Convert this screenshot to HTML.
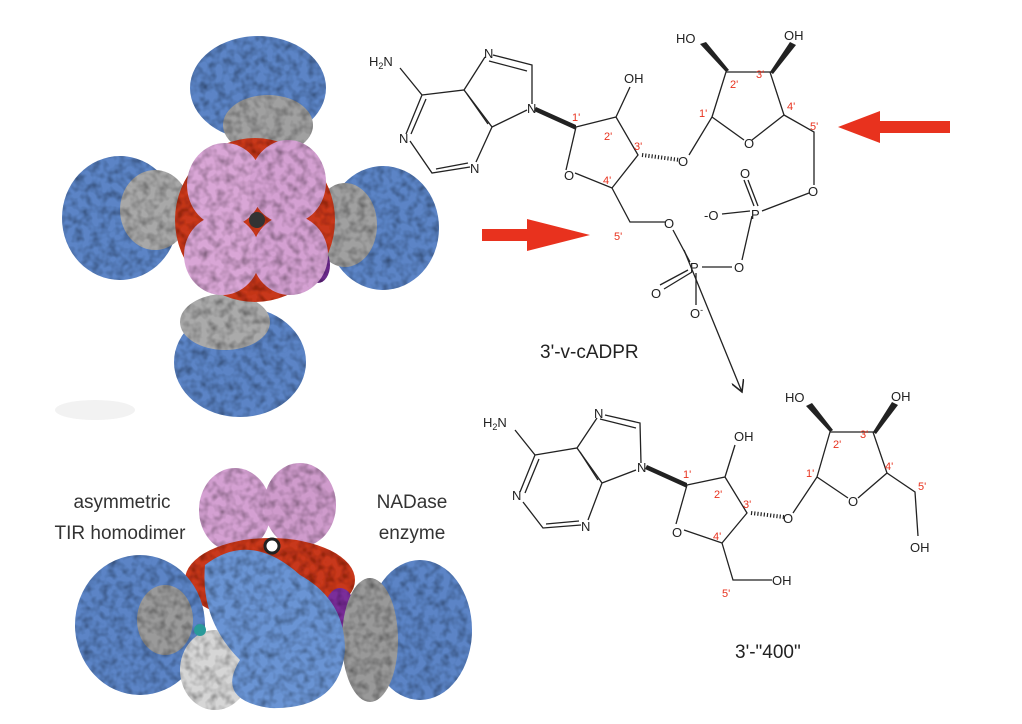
<!DOCTYPE html>
<html><head><style>
html,body{margin:0;padding:0;background:#fff;}
svg{display:block;}
text{font-family:"Liberation Sans",sans-serif;}
</style></head><body>
<svg width="1022" height="724" viewBox="0 0 1022 724" xmlns="http://www.w3.org/2000/svg">
<defs>
<filter id="tx" x="-10%" y="-10%" width="120%" height="120%">
<feTurbulence type="fractalNoise" baseFrequency="0.12" numOctaves="2" seed="3" result="n"/>
<feColorMatrix in="n" type="matrix" values="0 0 0 0 0  0 0 0 0 0  0 0 0 0 0  0 0 0 -1.2 0.75" result="m"/>
<feComposite in="m" in2="SourceGraphic" operator="in" result="d"/>
<feMerge><feMergeNode in="SourceGraphic"/><feMergeNode in="d"/></feMerge>
</filter>
<marker id="ah" markerWidth="10" markerHeight="10" refX="9" refY="5" orient="auto"><path d="M0,0 L9,5 L0,10" fill="none" stroke="#222" stroke-width="1.2"/></marker>
</defs>

<!-- top protein -->
<ellipse cx="95" cy="410" rx="40" ry="10" fill="#f2f2f2"/>
<g filter="url(#tx)">
<ellipse cx="258" cy="88" rx="68" ry="52" fill="#5b84c6"/>
<ellipse cx="120" cy="218" rx="58" ry="62" fill="#5b84c6"/>
<ellipse cx="383" cy="228" rx="56" ry="62" fill="#5b84c6"/>
<ellipse cx="240" cy="362" rx="66" ry="55" fill="#5b84c6"/>
<ellipse cx="268" cy="125" rx="45" ry="30" fill="#a0a0a0"/>
<ellipse cx="155" cy="210" rx="35" ry="40" fill="#a8a8a8"/>
<ellipse cx="345" cy="225" rx="32" ry="42" fill="#a0a0a0"/>
<ellipse cx="225" cy="322" rx="45" ry="28" fill="#aaa"/>
<ellipse cx="255" cy="220" rx="80" ry="82" fill="#c8391e"/>
<ellipse cx="200" cy="260" rx="14" ry="22" fill="#6a2a8a"/>
<ellipse cx="318" cy="265" rx="12" ry="18" fill="#6a2a8a"/>
<ellipse cx="225" cy="185" rx="38" ry="42" fill="#d9a6d6"/>
<ellipse cx="288" cy="182" rx="38" ry="42" fill="#d4a0d2"/>
<ellipse cx="222" cy="255" rx="38" ry="40" fill="#d9a6d6"/>
<ellipse cx="290" cy="255" rx="38" ry="40" fill="#d4a0d2"/>
</g>
<ellipse cx="257" cy="220" rx="8" ry="8" fill="#333"/>

<!-- bottom protein -->
<g filter="url(#tx)">
<ellipse cx="235" cy="510" rx="36" ry="42" fill="#d4a0d2"/>
<ellipse cx="300" cy="505" rx="36" ry="42" fill="#cf9bcc"/>
<ellipse cx="270" cy="580" rx="85" ry="42" fill="#c8391e"/>
<ellipse cx="340" cy="610" rx="15" ry="22" fill="#7a2d9a"/>
<ellipse cx="140" cy="625" rx="65" ry="70" fill="#5b84c6"/>
<ellipse cx="420" cy="630" rx="52" ry="70" fill="#5b84c6"/>
<ellipse cx="165" cy="620" rx="28" ry="35" fill="#9a9a9a"/>
<ellipse cx="215" cy="670" rx="35" ry="40" fill="#d6d6d6"/>
<ellipse cx="370" cy="640" rx="28" ry="62" fill="#999"/>
<path d="M205,565 Q250,530 300,575 Q345,600 345,650 Q340,710 270,708 Q215,700 240,660 Q200,620 205,565 Z" fill="#6a94d4"/>
</g>
<circle cx="272" cy="546" r="7" fill="#fff" stroke="#222" stroke-width="3"/>
<circle cx="200" cy="630" r="6" fill="#2a9a9a"/>
<text x="122" y="508" font-size="19" fill="#333" text-anchor="middle">asymmetric</text>
<text x="120" y="539" font-size="19" fill="#333" text-anchor="middle">TIR homodimer</text>
<text x="412" y="508" font-size="19" fill="#333" text-anchor="middle">NADase</text>
<text x="412" y="539" font-size="19" fill="#333" text-anchor="middle">enzyme</text>

<!-- red arrows -->
<polygon points="482,229 527,229 527,219 590,235 527,251 527,241 482,241" fill="#e8321e"/>
<polygon points="950,121 880,121 880,111 838,127 880,143 880,133 950,133" fill="#e8321e"/>

<!-- top molecule -->
<g stroke="#222" stroke-width="1.3" fill="none">
<path d="M400,68 L422,95 L406,134 M410,141 L432,173 L470,167 M476,162 L492,127 L464,90 L422,95 M464,90 L485,57 M493,55 L532,65 L532,104 M527,110 L492,127"/>
<path d="M426,99 L411,134 M436,169 L468,163 M467,94 L488,124 M489,61 L527,71"/>
<path d="M576,127 L616,117 L638,155 L612,188 L575,173 M566,170 L576,127 M616,117 L630,87"/>
<path d="M712,117 L726,72 L770,72 L784,115 L752,140 M744,140 L712,117 M712,117 L689,155"/>
<path d="M784,115 L814,132 L814,185 M809,193 L762,211 M758,206 L748,180 M752,216 L742,260 M750,211 L722,214 M732,267 L702,267 M692,272 L664,289 M696,273 L696,305 M690,262 L673,230 M666,222 L630,222 L612,188"/>
<path d="M754,206 L744,180"/>
<path d="M688,270 L660,285"/>
<path d="M684,250 L742,392" marker-end="url(#ah)"/>
</g>
<polygon points="536,107 576,125 576,130 534,111" fill="#222"/>
<path d="M642,155 L680,160" stroke="#222" stroke-width="4" stroke-dasharray="1.2,2" fill="none"/>
<polygon points="726,72 700,44 706,42 729,70" fill="#222"/>
<polygon points="770,72 790,42 796,45 773,74" fill="#222"/>
<g font-size="13" fill="#222">
<text x="369" y="66">H<tspan font-size="9" dy="3">2</tspan><tspan dy="-3">N</tspan></text>
<text x="399" y="143">N</text><text x="470" y="173">N</text><text x="484" y="58">N</text><text x="527" y="113">N</text>
<text x="624" y="83">OH</text><text x="564" y="180">O</text><text x="678" y="166">O</text><text x="744" y="148">O</text>
<text x="676" y="43">HO</text><text x="784" y="40">OH</text><text x="808" y="196">O</text>
<text x="751" y="219">P</text><text x="740" y="178">O</text><text x="704" y="220">-O</text><text x="734" y="272">O</text>
<text x="690" y="272">P</text><text x="651" y="298">O</text><text x="690" y="318">O<tspan font-size="9" dy="-5">-</tspan></text><text x="664" y="228">O</text>
</g>
<g font-size="11" fill="#e8321e">
<text x="572" y="121">1'</text><text x="604" y="140">2'</text><text x="634" y="150">3'</text><text x="603" y="184">4'</text><text x="614" y="240">5'</text>
<text x="699" y="117">1'</text><text x="730" y="88">2'</text><text x="756" y="78">3'</text><text x="787" y="110">4'</text><text x="810" y="130">5'</text>
</g>
<text x="540" y="358" font-size="19" fill="#222">3'-v-cADPR</text>

<!-- bottom molecule -->
<g stroke="#222" stroke-width="1.3" fill="none">
<path d="M515,430 L535,455 L520,492 M523,502 L543,528 L581,525 M588,520 L602,483 L577,448 L535,455 M577,448 L597,418 M605,415 L640,423 L641,463 M636,470 L602,483"/>
<path d="M539,459 L525,493 M546,524 L579,521 M580,452 L598,480 M600,419 L636,428"/>
<path d="M687,485 L725,477 L747,513 L722,543 L684,530 M676,524 L687,485 M725,477 L735,445"/>
<path d="M817,477 L830,432 L873,432 L887,473 L858,498 M848,498 L817,477 M817,477 L793,513"/>
<path d="M887,473 L915,492 L918,536 M722,543 L733,580 L772,580"/>
</g>
<polygon points="647,465 687,483 687,488 645,469" fill="#222"/>
<path d="M751,513 L784,517" stroke="#222" stroke-width="4" stroke-dasharray="1.2,2" fill="none"/>
<polygon points="830,432 806,406 812,403 833,430" fill="#222"/>
<polygon points="873,432 892,402 898,405 876,434" fill="#222"/>
<g font-size="13" fill="#222">
<text x="483" y="427">H<tspan font-size="9" dy="3">2</tspan><tspan dy="-3">N</tspan></text>
<text x="512" y="500">N</text><text x="581" y="531">N</text><text x="594" y="418">N</text><text x="637" y="472">N</text>
<text x="734" y="441">OH</text><text x="672" y="537">O</text><text x="783" y="523">O</text><text x="848" y="506">O</text>
<text x="785" y="402">HO</text><text x="891" y="401">OH</text><text x="910" y="552">OH</text><text x="772" y="585">OH</text>
</g>
<g font-size="11" fill="#e8321e">
<text x="683" y="478">1'</text><text x="714" y="498">2'</text><text x="743" y="508">3'</text><text x="713" y="540">4'</text><text x="722" y="597">5'</text>
<text x="806" y="477">1'</text><text x="833" y="448">2'</text><text x="860" y="438">3'</text><text x="885" y="470">4'</text><text x="918" y="490">5'</text>
</g>
<text x="735" y="658" font-size="19" fill="#222">3'-"400"</text>
</svg>
</body></html>
